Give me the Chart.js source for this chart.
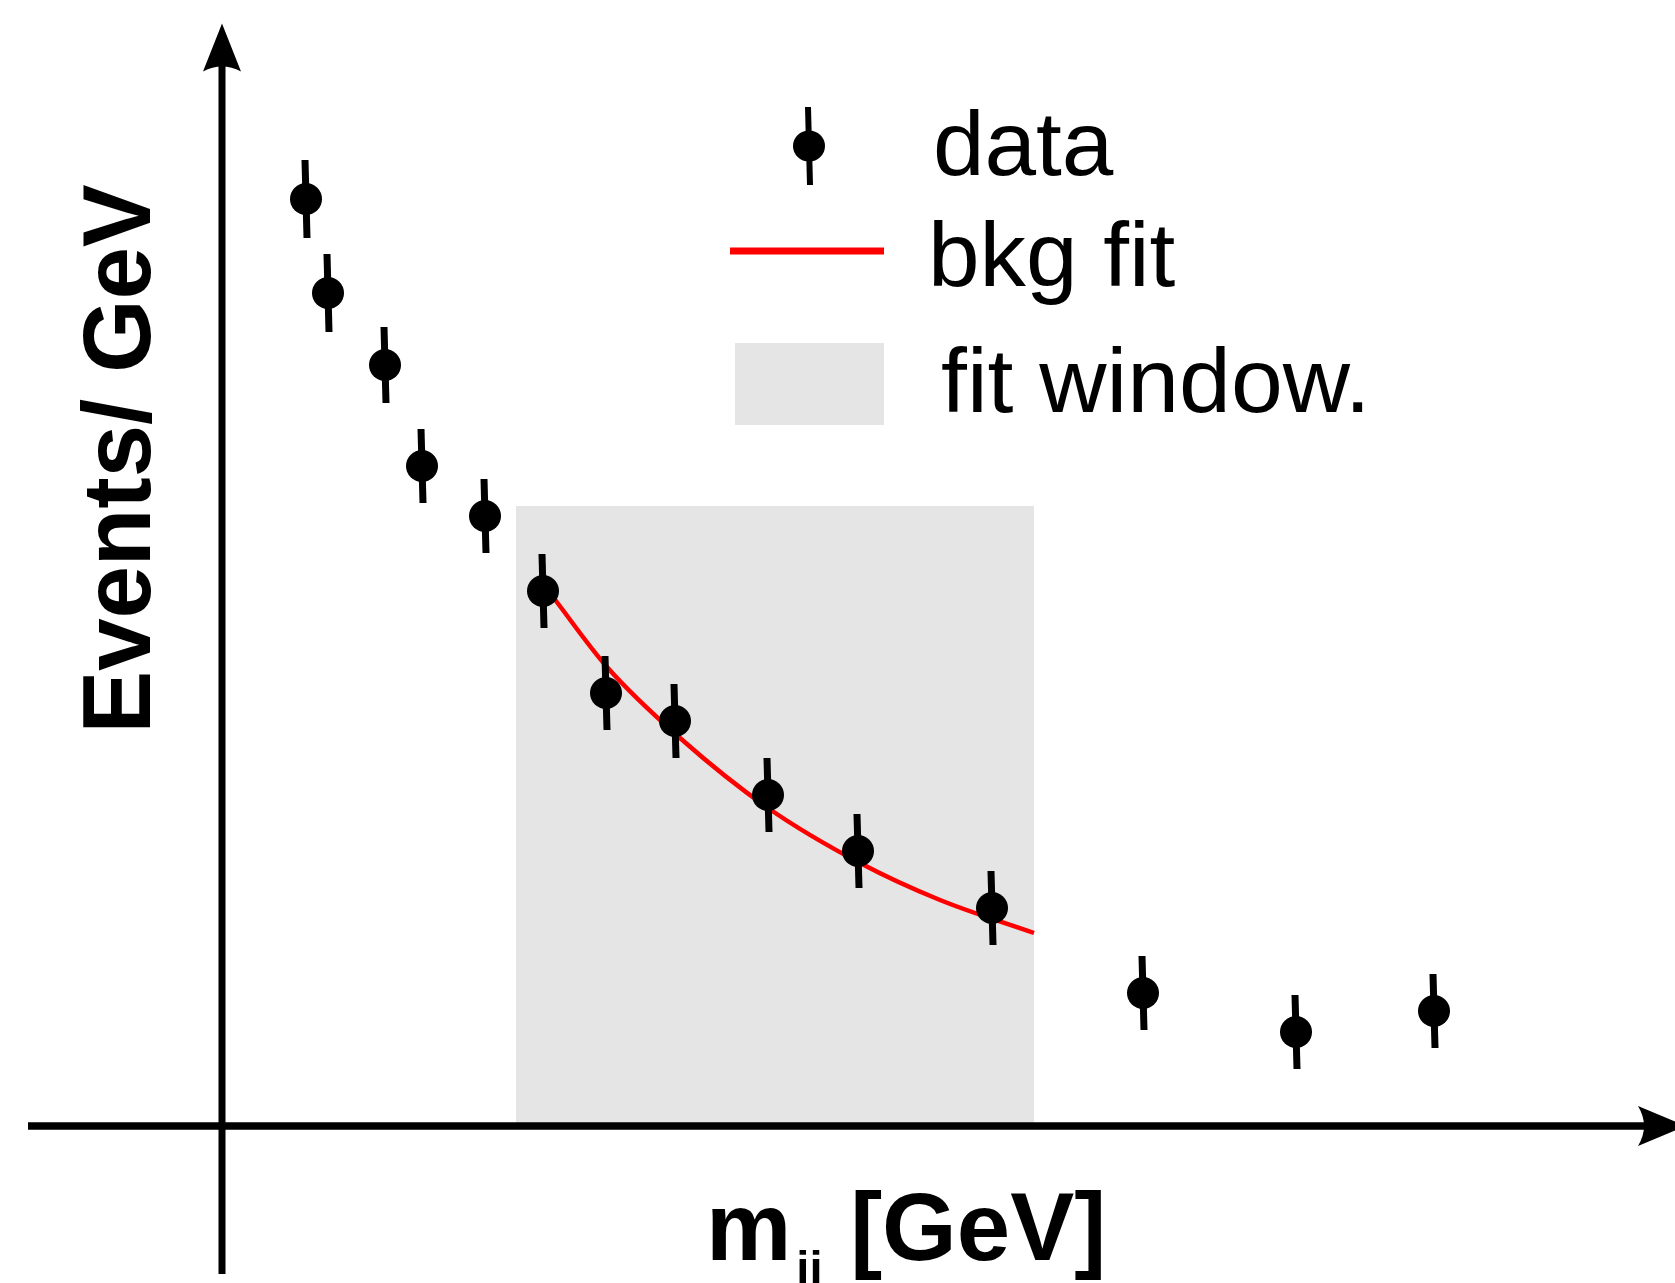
<!DOCTYPE html>
<html>
<head>
<meta charset="utf-8">
<script src="https://cdn.jsdelivr.net/npm/chart.js@4/dist/chart.umd.min.js"></script>
<style>
  html, body { margin: 0; padding: 0; background: #fff; }
  #wrap { width: 1675px; height: 1283px; }
</style>
</head>
<body>
<div id="wrap"><canvas id="fitChart" width="1675" height="1283"></canvas></div>
<script>
// Measured points: m_jj (GeV) vs events/GeV, with symmetric errors
const massPoints = [84, 106, 163, 200, 263, 321, 384, 453, 546, 636, 770, 921, 1074, 1212];
const eventPoints = [92.7, 83.3, 76.1, 66.0, 61.0, 53.5, 43.3, 40.5, 33.1, 27.5, 21.8, 13.3, 9.4, 11.5];
const eventErrors = [3.9, 3.9, 3.8, 3.7, 3.7, 3.7, 3.7, 3.7, 3.7, 3.7, 3.7, 3.7, 3.7, 3.7];

// Background fit curve
const fitMass = [331, 385, 458, 546, 638, 718, 812];
const fitEvents = [52.9, 45.9, 38.8, 31.8, 26.3, 22.6, 19.3];

// Fit window on the mass axis and the height of its band
const fitWindow = [294, 812];
const fitWindowTop = 62.0;

const legendLabels = ['data', 'bkg fit', 'fit window.'];
const yTitle = 'Events/ GeV';
const xTitle = ['m', 'jj', ' [GeV]'];

const FONT = '"Liberation Sans", Arial, Helvetica, sans-serif';
const BAND = '#e5e5e5';
const RED = '#ff0000';

// Filled arrow head with a slightly concave back
function arrowHead(ctx, tipX, tipY, dx, dy, len, half, depth) {
  const nx = -dy, ny = dx;
  const bx = tipX - dx * len, by = tipY - dy * len;
  const cx = tipX - dx * (len - 2 * depth), cy = tipY - dy * (len - 2 * depth);
  ctx.beginPath();
  ctx.moveTo(tipX, tipY);
  ctx.lineTo(bx + nx * half, by + ny * half);
  ctx.quadraticCurveTo(cx, cy, bx - nx * half, by - ny * half);
  ctx.closePath();
  ctx.fill();
}

// Text stretched a little horizontally, to match the original lettering
function wideText(ctx, text, x, y, sx) {
  ctx.save();
  ctx.translate(x, y);
  ctx.scale(sx, 1);
  ctx.fillText(text, 0, 0);
  ctx.restore();
}

// Plugin: fit-window band, error bars, arrow axes, titles and legend
Chart.register({
  id: 'sketchDecor',
  beforeDatasetsDraw: function (chart) {
    const ctx = chart.ctx, x = chart.scales.x, y = chart.scales.y;
    const x0 = x.getPixelForValue(fitWindow[0]);
    const x1 = x.getPixelForValue(fitWindow[1]);
    const yTop = y.getPixelForValue(fitWindowTop);
    const yBot = y.getPixelForValue(0);
    ctx.save();
    ctx.fillStyle = BAND;
    ctx.fillRect(x0, yTop, x1 - x0, yBot - yTop);
    ctx.restore();
  },
  afterDatasetsDraw: function (chart) {
    const ctx = chart.ctx, x = chart.scales.x, y = chart.scales.y;
    ctx.save();
    ctx.strokeStyle = '#000';
    ctx.lineWidth = 7;
    massPoints.forEach(function (m, i) {
      const px = x.getPixelForValue(m);
      ctx.beginPath();
      ctx.moveTo(px - 1, y.getPixelForValue(eventPoints[i] + eventErrors[i]));
      ctx.lineTo(px + 1, y.getPixelForValue(eventPoints[i] - eventErrors[i]));
      ctx.stroke();
    });
    ctx.restore();
  },
  afterDraw: function (chart) {
    const ctx = chart.ctx, x = chart.scales.x, y = chart.scales.y;
    const ax = x.getPixelForValue(0), ay = y.getPixelForValue(0);
    const W = chart.width;
    ctx.save();
    ctx.fillStyle = '#000';
    ctx.strokeStyle = '#000';

    // vertical axis
    ctx.lineWidth = 7;
    ctx.beginPath();
    ctx.moveTo(ax, 1274);
    ctx.lineTo(ax, 60);
    ctx.stroke();
    arrowHead(ctx, ax, 23.5, 0, -1, 48, 19, 5);

    // horizontal axis
    ctx.lineWidth = 7.5;
    ctx.beginPath();
    ctx.moveTo(28, ay);
    ctx.lineTo(W - 20, ay);
    ctx.stroke();
    arrowHead(ctx, W + 11, ay, 1, 0, 48, 20, 6);

    // y title
    ctx.save();
    ctx.translate(150, 459);
    ctx.rotate(-Math.PI / 2);
    ctx.scale(0.98, 1);
    ctx.font = 'bold 96px ' + FONT;
    ctx.textAlign = 'center';
    ctx.textBaseline = 'alphabetic';
    ctx.fillText(yTitle, 0, 0);
    ctx.restore();

    // x title with subscript
    ctx.textAlign = 'left';
    ctx.textBaseline = 'alphabetic';
    ctx.font = 'bold 96px ' + FONT;
    let tx = 706;
    ctx.fillText(xTitle[0], tx, 1260);
    tx += ctx.measureText(xTitle[0]).width;
    ctx.font = 'bold 47px ' + FONT;
    ctx.fillText(xTitle[1], tx + 5, 1284);
    tx += ctx.measureText(xTitle[1]).width + 6;
    ctx.font = 'bold 96px ' + FONT;
    ctx.fillText(xTitle[2], tx, 1260);

    // legend
    ctx.lineWidth = 6;
    ctx.beginPath();
    ctx.moveTo(808, 107);
    ctx.lineTo(810, 185);
    ctx.stroke();
    ctx.beginPath();
    ctx.ellipse(809, 146, 16, 15.5, 0, 0, Math.PI * 2);
    ctx.fill();

    ctx.strokeStyle = RED;
    ctx.lineWidth = 7;
    ctx.beginPath();
    ctx.moveTo(730, 251);
    ctx.lineTo(884, 251);
    ctx.stroke();

    ctx.fillStyle = BAND;
    ctx.fillRect(735, 343, 149, 82);

    ctx.fillStyle = '#000';
    ctx.font = '90px ' + FONT;
    wideText(ctx, legendLabels[0], 933, 175, 1.03);
    wideText(ctx, legendLabels[1], 928, 286, 1.03);
    wideText(ctx, legendLabels[2], 941, 412, 1.035);
    ctx.restore();
  },
});

new Chart(document.getElementById('fitChart'), {
  type: 'scatter',
  data: {
    datasets: [
      {
        label: legendLabels[0],
        data: massPoints.map((m, i) => ({ x: m, y: eventPoints[i] })),
        pointRadius: 16,
        pointBackgroundColor: '#000',
        pointBorderWidth: 0,
        showLine: false,
      },
      {
        label: legendLabels[1],
        data: fitMass.map((m, i) => ({ x: m, y: fitEvents[i] })),
        showLine: true,
        pointRadius: 0,
        borderColor: RED,
        borderWidth: 4.5,
        cubicInterpolationMode: 'monotone',
        fill: false,
      },
    ],
  },
  options: {
    responsive: false,
    devicePixelRatio: 1,
    animation: false,
    layout: { padding: 0, autoPadding: false },
    plugins: { legend: { display: false }, tooltip: { enabled: false } },
    scales: {
      x: { type: 'linear', display: false, min: -222, max: 1453 },
      y: { type: 'linear', display: false, min: -15.7, max: 112.6 },
    },
  },
});
</script>
</body>
</html>
